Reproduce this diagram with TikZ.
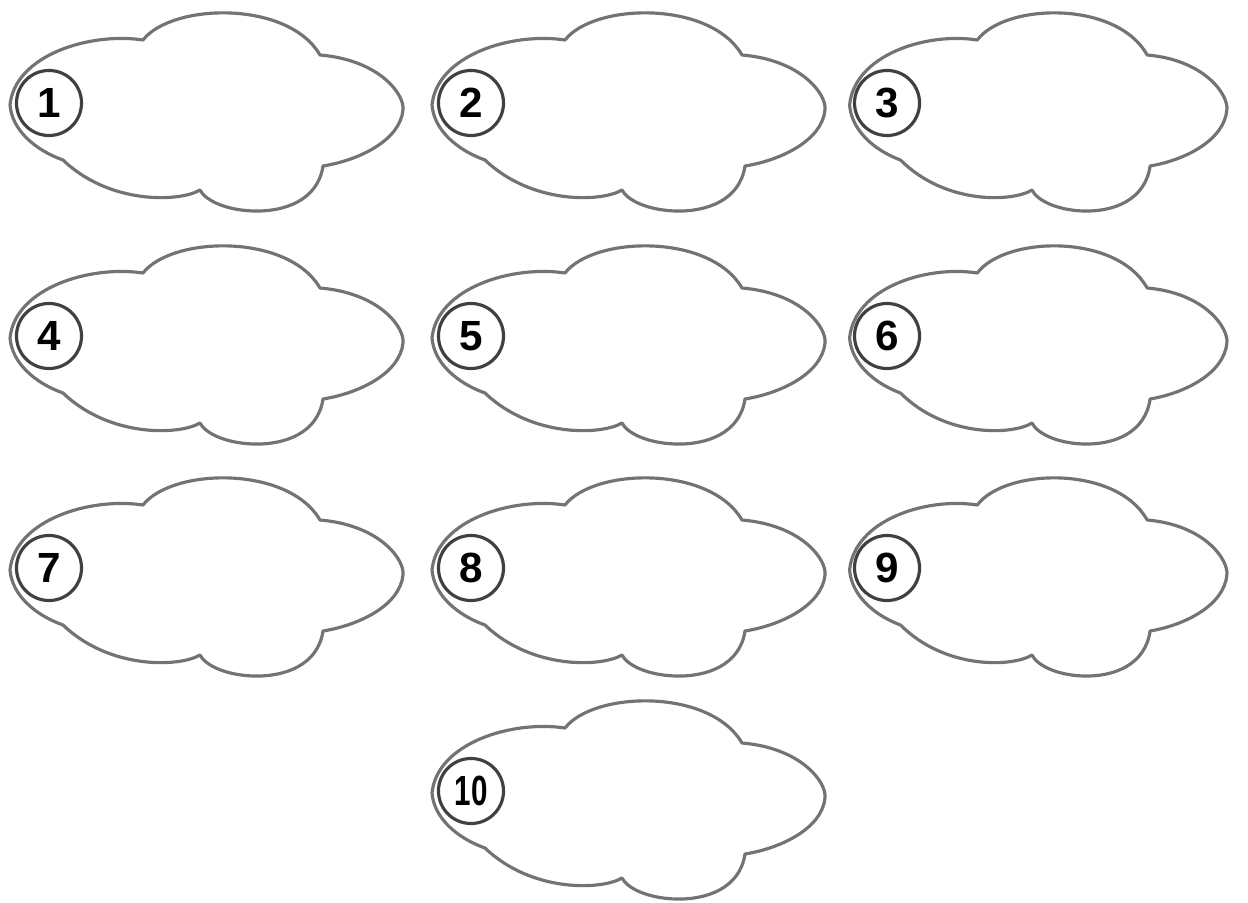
\documentclass[tikz,border=0pt]{standalone}
\usepackage{fontspec}
\setsansfont{Liberation Sans}
\usetikzlibrary{positioning}
\tikzset{
  cloudline/.style={draw=black!55, line width=0.9pt, line join=round},
  numcircle/.style={circle, draw=black!75, line width=0.9pt,
                    minimum size=6.5mm, inner sep=0pt,
                    font=\sffamily\bfseries\fontsize{12}{12}\selectfont}
}

\begin{document}
\begin{tikzpicture}[x=0.01cm, y=-0.01cm]
\useasboundingbox (0,0) rectangle (1248,903);
% clouds: number / shift x / shift y / xscale
\foreach \n/\x/\y/\s in {1/0/0/1, 2/422/0/1, 3/840/0/0.96,
                         4/0/233/1, 5/422/233/1, 6/840/233/0.96,
                         7/0/465/1, 8/422/465/1, 9/840/465/0.96,
                         10/422/688/1}
{
  \begin{scope}[shift={(\x,\y)}, xscale=\s]
    \draw[cloudline] (10,105) .. controls (15,55) and (90,32) .. (143,40)
      .. controls (172,3) and (288,0) .. (320,55)
      .. controls (380,60) and (405,95) .. (403,110)
      .. controls (400,140) and (360,160) .. (323,166)
      .. controls (318,200) and (285,212) .. (253,211)
      .. controls (225,210) and (205,200) .. (200,190)
      .. controls (180,202) and (110,205) .. (63,160)
      .. controls (35,150) and (12,130) .. (10,105) -- cycle;
    \node[numcircle] (n\n) at (49,103)
      {\ifnum\n>9 \scalebox{0.7}[1]{\n}\else\n\fi};
  \end{scope}
}
\end{tikzpicture}
\end{document}
